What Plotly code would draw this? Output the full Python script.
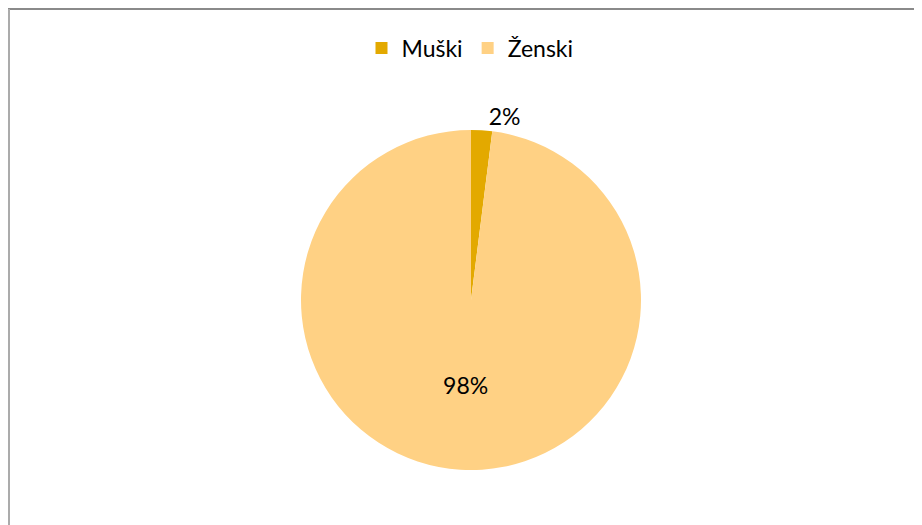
import plotly.graph_objects as go

labels = ["Muški", "Ženski"]
values = [2, 98]
colors = ["#E3A900", "#FFD184"]
text_positions = ["outside", "inside"]

W, H = 922, 525
# page body has an 8px margin, so figure coordinates = screen - 8
cx, cy, r = 463, 292, 170

fig = go.Figure(go.Pie(
    labels=labels,
    values=values,
    marker=dict(colors=colors, line=dict(width=0)),
    sort=False,
    direction="clockwise",
    rotation=0,
    textinfo="percent",
    texttemplate="%{percent:.0%}",
    textposition=text_positions,
    textfont=dict(family="Lato", size=23, color="#000000"),
    insidetextorientation="horizontal",
    domain=dict(x=[(cx - r) / W, (cx + r) / W], y=[(H - cy - r) / H, (H - cy + r) / H]),
    hoverinfo="label+percent",
))

fig.update_layout(
    width=W, height=H,
    margin=dict(l=0, r=0, t=0, b=0),
    paper_bgcolor="white",
    plot_bgcolor="white",
    showlegend=True,
    legend=dict(
        orientation="h", x=462 / W, xanchor="center", y=(H - 40) / H, yanchor="middle",
        font=dict(family="Lato", size=23, color="#000000"),
        traceorder="normal",
    ),
    shapes=[
        dict(type="line", xref="paper", yref="paper", x0=0, x1=1, y0=(H - 1) / H, y1=(H - 1) / H,
             line=dict(color="#8a8a8a", width=2)),
        dict(type="line", xref="paper", yref="paper", x0=1 / W, x1=1 / W, y0=0, y1=(H - 1) / H,
             line=dict(color="#ababab", width=2)),
    ],
)

fig.write_html("out.html")
